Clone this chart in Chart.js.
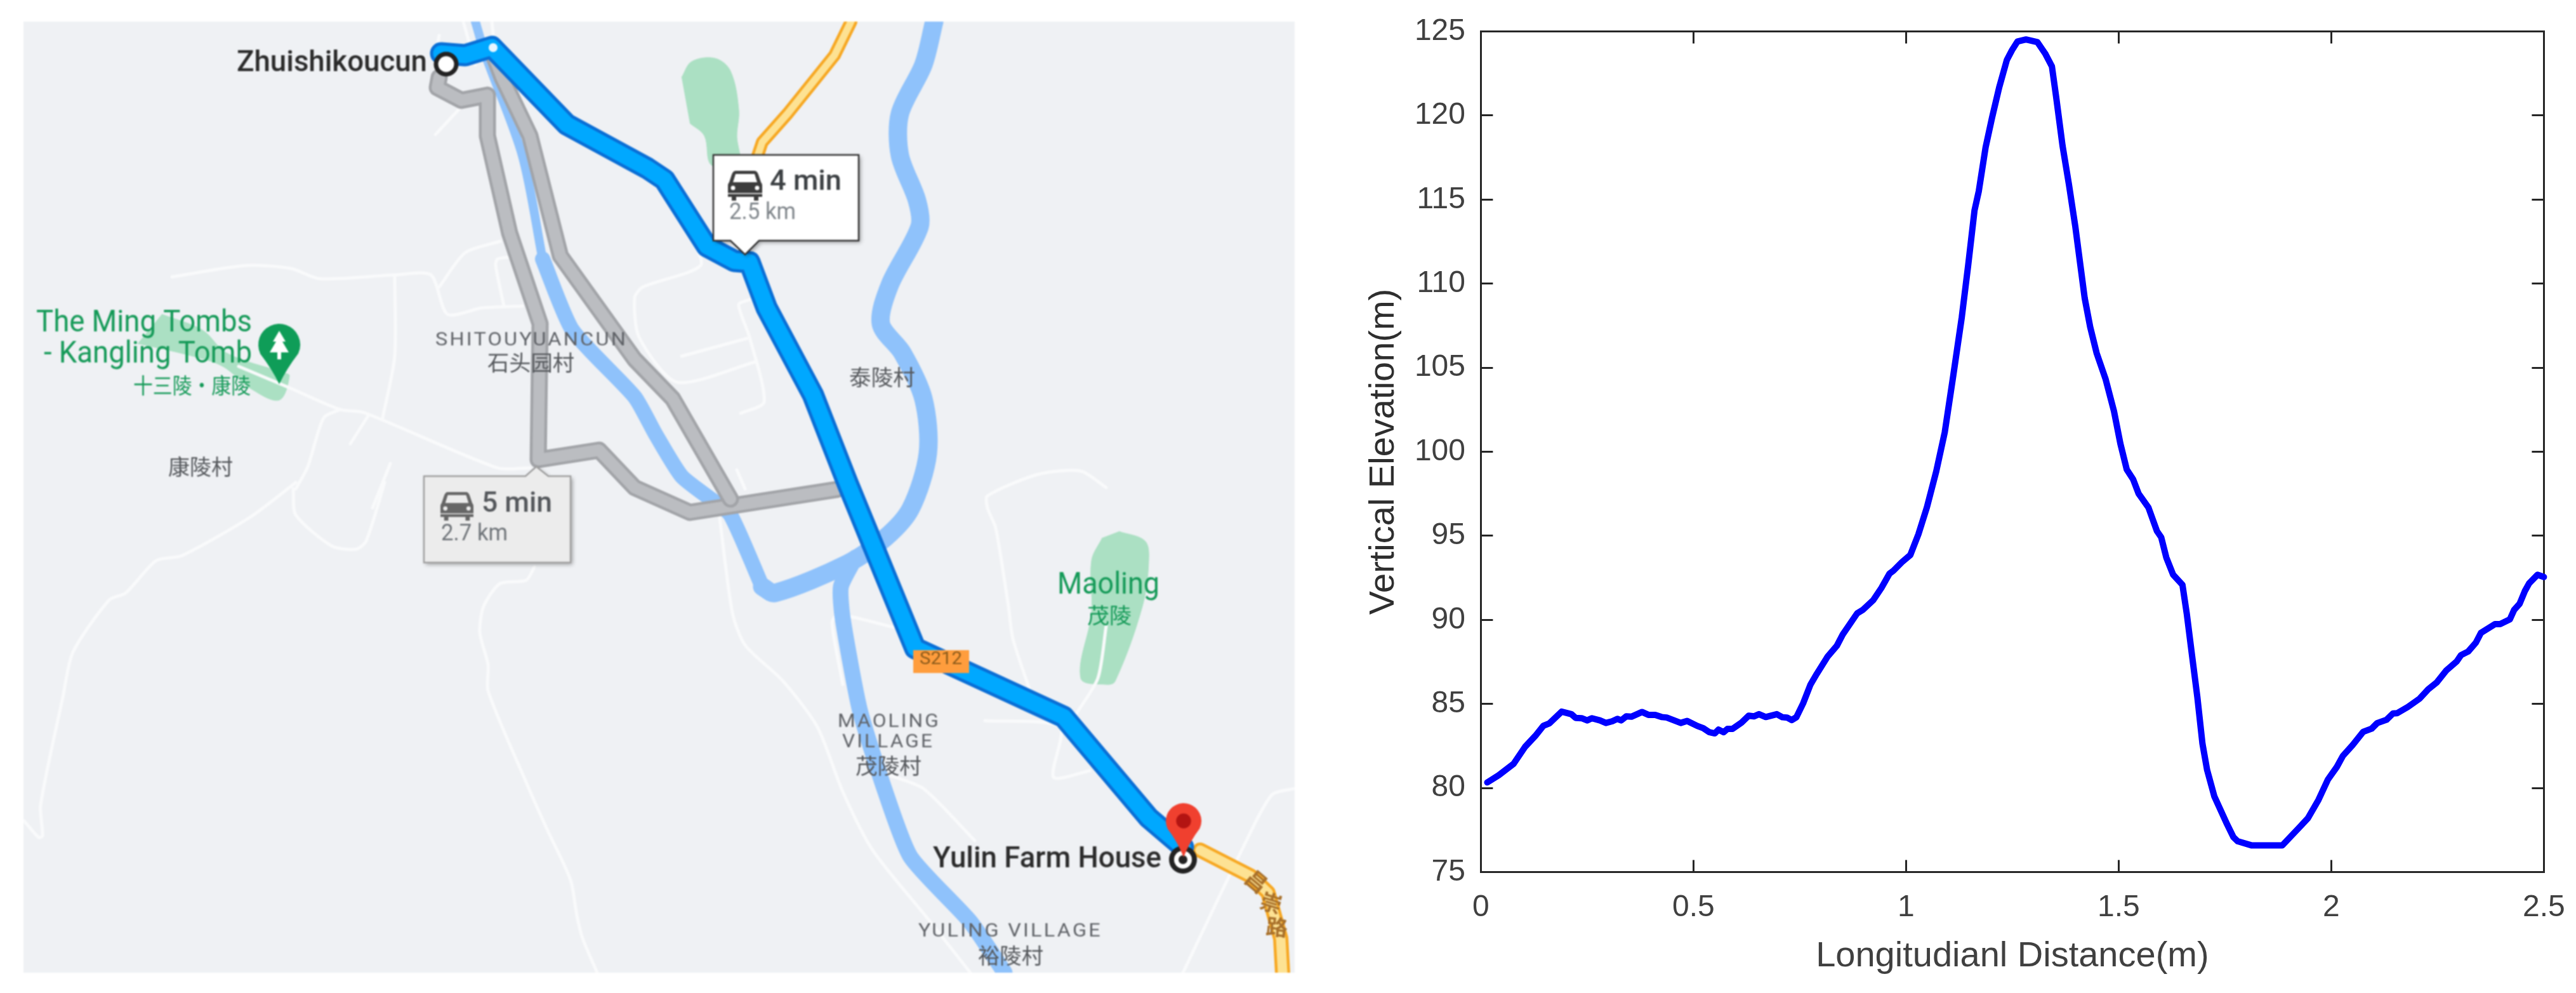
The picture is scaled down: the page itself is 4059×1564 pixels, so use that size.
<!DOCTYPE html>
<html>
<head>
<meta charset="utf-8">
<script src="https://cdn.jsdelivr.net/npm/chart.js@4"></script>
<style>
  html, body { margin: 0; padding: 0; background: #fff; width: 4059px; height: 1564px; overflow: hidden; }
  canvas { position: absolute; }
  #map { left: 37px; top: 34px; filter: blur(1.1px); }
  #profile { left: 2100px; top: 0; }
</style>
</head>
<body>
<canvas id="map" width="2003" height="1498"></canvas>
<canvas id="profile" width="1959" height="1564"></canvas>
<script>
// elevation profile
const profileX = [0.015, 0.042, 0.077, 0.104, 0.128, 0.147, 0.161, 0.19, 0.213, 0.223, 0.237, 0.25, 0.261, 0.28, 0.294, 0.309, 0.321, 0.33, 0.342, 0.354, 0.379, 0.394, 0.41, 0.425, 0.437, 0.47, 0.485, 0.509, 0.523, 0.537, 0.55, 0.559, 0.571, 0.58, 0.592, 0.613, 0.63, 0.642, 0.654, 0.67, 0.696, 0.709, 0.72, 0.731, 0.742, 0.758, 0.775, 0.79, 0.815, 0.837, 0.851, 0.885, 0.899, 0.923, 0.942, 0.961, 0.97, 0.99, 1.01, 1.029, 1.049, 1.071, 1.091, 1.111, 1.131, 1.146, 1.161, 1.171, 1.187, 1.202, 1.219, 1.237, 1.249, 1.262, 1.282, 1.309, 1.327, 1.343, 1.353, 1.368, 1.383, 1.398, 1.41, 1.42, 1.433, 1.448, 1.469, 1.489, 1.504, 1.519, 1.534, 1.547, 1.57, 1.59, 1.6, 1.612, 1.628, 1.65, 1.66, 1.672, 1.685, 1.697, 1.708, 1.725, 1.74, 1.755, 1.77, 1.78, 1.812, 1.885, 1.925, 1.945, 1.97, 1.992, 2.013, 2.027, 2.05, 2.075, 2.095, 2.108, 2.13, 2.145, 2.155, 2.18, 2.208, 2.228, 2.248, 2.27, 2.295, 2.305, 2.322, 2.34, 2.352, 2.385, 2.397, 2.42, 2.43, 2.443, 2.455, 2.465, 2.485, 2.5];
const profileY = [80.33, 80.76, 81.44, 82.45, 83.1, 83.7, 83.84, 84.54, 84.39, 84.17, 84.15, 84.02, 84.15, 84.02, 83.87, 83.97, 84.11, 84.02, 84.26, 84.24, 84.52, 84.35, 84.35, 84.22, 84.19, 83.87, 83.99, 83.69, 83.56, 83.32, 83.25, 83.47, 83.32, 83.52, 83.52, 83.89, 84.3, 84.26, 84.39, 84.22, 84.39, 84.21, 84.19, 84.04, 84.21, 85.04, 86.14, 86.79, 87.8, 88.45, 89.13, 90.39, 90.61, 91.18, 91.9, 92.75, 92.92, 93.43, 93.86, 95.09, 96.7, 98.84, 101.16, 104.53, 108.0, 111.08, 114.36, 115.5, 118.1, 119.85, 121.67, 123.3, 123.88, 124.4, 124.52, 124.36, 123.69, 122.92, 121.09, 118.2, 115.9, 113.4, 111.08, 109.15, 107.42, 105.88, 104.34, 102.41, 100.48, 98.94, 98.36, 97.5, 96.68, 95.28, 94.91, 93.71, 92.69, 92.08, 90.39, 87.99, 85.41, 82.64, 81.07, 79.5, 78.67, 77.84, 77.07, 76.83, 76.59, 76.59, 77.66, 78.2, 79.3, 80.5, 81.25, 81.9, 82.55, 83.34, 83.53, 83.86, 84.06, 84.43, 84.45, 84.82, 85.32, 85.87, 86.28, 86.98, 87.53, 87.9, 88.12, 88.64, 89.23, 89.75, 89.75, 90.03, 90.59, 90.96, 91.7, 92.16, 92.68, 92.55];
const xTitle = 'Longitudianl Distance(m)';
const yTitle = 'Vertical Elevation(m)';

// map geometry, in map units
const mainRoute = [[695,84],[733,87],[775,74],[893,196],[1020,265],[1047,283],[1114,388],[1157,411],[1181,413],[1208,485],[1281,622],[1335,760],[1442,1021],[1676,1129],[1810,1288],[1864,1334]];
const altRouteA = [[692,122],[689,138],[727,158],[768,150],[768,214],[803,367],[851,510],[848,724],[861,722],[944,709],[1000,768],[1087,807],[1318,771]];
const altRouteB = [[775,80],[791,122],[835,214],[883,403],[1000,566],[1060,628],[1151,786]];
const riverThin = [[749,34],[765,87],[823,245],[855,408]];
const riverWide = [[855,408],[902,520],[1000,625],[1033,684],[1074,750],[1120,786],[1151,811],[1201,924]];
const riverBend = [[1201,924],[1221,934],[1335,888],[1395,847],[1435,801],[1462,714],[1455,628],[1422,556],[1388,510],[1402,449],[1449,357],[1445,316],[1418,245],[1418,179],[1455,102],[1472,34]];
const riverSouth = [[1348,878],[1325,924],[1328,975],[1355,1119],[1395,1247],[1435,1350],[1529,1452],[1583,1532]];
const highwayNorth = [[1341,34],[1315,87],[1241,179],[1201,224],[1194,245]];
const highwaySouth = [[1891,1339],[1971,1380],[1998,1406],[2018,1478],[2021,1532]];
const whiteRoads = [
  [[271,436],[389,418],[459,423],[504,439],[622,433],[679,433],[705,495],[759,485],[823,482]],
  [[692,452],[733,398],[788,380]],
  [[804,405],[784,408],[781,418],[794,482]],
  [[622,434],[622,561],[603,658]],
  [[580,655],[552,699]],
  [[376,577],[459,612],[536,645],[574,650],[784,737],[835,737]],
  [[536,645],[510,658],[485,735],[466,770]],
  [[615,730],[587,800]],
  [[686,212],[727,168]],
  [[730,34],[749,102]],
  [[775,34],[781,92]],
  [[692,56],[689,71]],
  [[466,760],[395,814],[287,875],[246,883],[198,934],[172,945],[115,1027],[99,1098],[64,1268],[67,1316],[61,1319],[38,1293]],
  [[462,770],[466,811],[523,860],[561,865],[577,852],[606,760]],
  [[842,893],[829,914],[788,919],[762,955],[756,996],[769,1047],[769,1088],[829,1232],[861,1304],[899,1386],[909,1442],[918,1478],[941,1532]],
  [[1087,367],[1104,418],[1013,452],[1000,469],[1007,531],[1067,602],[1190,570]],
  [[1181,472],[1164,480],[1181,531],[1204,633],[1167,651]],
  [[1074,561],[1177,533]],
  [[1743,768],[1703,742],[1636,747],[1556,781],[1556,800],[1569,832],[1589,955],[1596,1006],[1623,1088]],
  [[1161,740],[1174,770]],
  [[1134,816],[1154,965],[1174,1016],[1234,1073],[1288,1145],[1328,1247],[1375,1339],[1462,1447],[1529,1532]],
  [[1328,1078],[1311,981],[1321,968],[1408,988]],
  [[1402,1221],[1455,1242],[1536,1324]],
  [[1552,1135],[1670,1145],[1660,1224],[1717,1214]],
  [[1743,986],[1730,1068],[1696,1124]],
  [[1864,1532],[1964,1324],[2004,1252],[2040,1242]]
];
const parkNorth = [[1074,122],[1090,97],[1127,92],[1151,112],[1164,173],[1161,214],[1164,260],[1121,260],[1110,214],[1087,194]];
const parkMaoling = [[1763,837],[1804,852],[1810,883],[1800,955],[1757,1073],[1743,1078],[1703,1068],[1720,965],[1720,883],[1737,847]];
const parkKangling = [[255,495],[319,520],[357,556],[446,587],[456,592],[440,630],[395,612],[351,577],[300,560],[217,541]];

// text, left, right, middle, kind
const mapLabels = [
  ['Zhuishikoucun', 373, 673, 100, 'place'],
  ['The Ming Tombs', 57, 397, 510, 'park'],
  ['- Kangling Tomb', 69, 397, 559, 'park'],
  ['十三陵·康陵', 210, 395, 607, 'parkCjk'],
  ['SHITOUYUANCUN', 686, 989, 536, 'village'],
  ['石头园村', 768, 905, 571, 'cjk'],
  ['康陵村', 265, 367, 735, 'cjk'],
  ['泰陵村', 1338, 1442, 594, 'cjk'],
  ['MAOLING', 1320, 1482, 1137, 'village'],
  ['VILLAGE', 1327, 1472, 1169, 'village'],
  ['茂陵村', 1348, 1452, 1206, 'cjk'],
  ['YULING VILLAGE', 1447, 1737, 1467, 'village'],
  ['裕陵村', 1541, 1644, 1505, 'cjk'],
  ['Maoling', 1666, 1827, 923, 'park'],
  ['茂陵', 1713, 1783, 969, 'parkCjk'],
  ['Yulin Farm House', 1470, 1830, 1354, 'place']
];
const labelStyles = {
  place: ['500 46px Roboto', '#2b2b2b'],
  park: ['400 48px Roboto', '#159a58'],
  parkCjk: ['400 34px "Noto Sans CJK SC"', '#159a58'],
  village: ['400 30px Roboto', '#606368', '3px'],
  cjk: ['400 34px "Noto Sans CJK SC"', '#55585c']
};

function toPoints(list) {
  return list.map(p => ({ x: p[0], y: p[1] }));
}
function stroke(list, color, width, curve) {
  return { data: toPoints(list), borderColor: color, borderWidth: width, pointRadius: 0, tension: curve || 0, borderCapStyle: 'round', borderJoinStyle: 'round', fill: false };
}
function park(list) {
  return { data: toPoints(list), borderColor: '#abe0c3', backgroundColor: '#abe0c3', borderWidth: 1, pointRadius: 0, tension: 0.35, fill: 'shape' };
}

// fit text between two x positions, the source map is a stretched screenshot
function span(ctx, text, left, right, mid, font, color, spacing) {
  ctx.save();
  ctx.font = font;
  ctx.letterSpacing = spacing || '0px';
  ctx.fillStyle = color;
  ctx.textBaseline = 'middle';
  ctx.textAlign = 'left';
  const w = ctx.measureText(text).width;
  ctx.translate(left, mid);
  ctx.scale((right - left) / w, 1);
  ctx.fillText(text, 0, 0);
  ctx.restore();
}

function drawCar(ctx, x, y, w, h, color, bg) {
  ctx.save();
  ctx.translate(x, y);
  ctx.scale(w / 54, h / 47);
  ctx.fillStyle = color;
  ctx.beginPath();
  ctx.moveTo(12, 0); ctx.lineTo(42, 0); ctx.quadraticCurveTo(46, 0, 48, 6);
  ctx.lineTo(52, 18); ctx.quadraticCurveTo(54, 20, 54, 24); ctx.lineTo(54, 41);
  ctx.lineTo(48, 41); ctx.lineTo(48, 47); ctx.lineTo(41, 47); ctx.lineTo(41, 41);
  ctx.lineTo(13, 41); ctx.lineTo(13, 47); ctx.lineTo(6, 47); ctx.lineTo(6, 41);
  ctx.lineTo(0, 41); ctx.lineTo(0, 24); ctx.quadraticCurveTo(0, 20, 2, 18);
  ctx.lineTo(6, 6); ctx.quadraticCurveTo(8, 0, 12, 0);
  ctx.fill();
  ctx.fillStyle = bg;
  ctx.beginPath();
  ctx.moveTo(12, 5); ctx.lineTo(42, 5); ctx.lineTo(46, 18); ctx.lineTo(8, 18); ctx.closePath();
  ctx.fill();
  ctx.beginPath(); ctx.arc(8, 27, 3.5, 0, 7); ctx.arc(46, 27, 3.5, 0, 7); ctx.fill();
  ctx.fillRect(0, 35, 54, 1.5);
  ctx.restore();
}

function drawCallout(ctx, box, apex, base, fill, line) {
  ctx.save();
  ctx.shadowColor = 'rgba(0,0,0,0.35)';
  ctx.shadowBlur = 6;
  ctx.shadowOffsetX = 3;
  ctx.shadowOffsetY = 3;
  ctx.fillStyle = fill;
  ctx.strokeStyle = line;
  ctx.lineWidth = 2.5;
  const [l, t, r, b] = box;
  ctx.beginPath();
  ctx.moveTo(l, t);
  if (apex[1] < t) { ctx.lineTo(base[0], t); ctx.lineTo(apex[0], apex[1]); ctx.lineTo(base[1], t); }
  ctx.lineTo(r, t);
  ctx.lineTo(r, b);
  if (apex[1] > b) { ctx.lineTo(base[1], b); ctx.lineTo(apex[0], apex[1]); ctx.lineTo(base[0], b); }
  ctx.lineTo(l, b);
  ctx.closePath();
  ctx.fill();
  ctx.shadowColor = 'transparent';
  ctx.stroke();
  ctx.restore();
}

function drawPin(ctx, cx, cy, r, tipY, fill, dot) {
  ctx.save();
  ctx.fillStyle = fill;
  ctx.beginPath();
  ctx.arc(cx, cy, r, Math.PI * 0.86, Math.PI * 0.14, false);
  ctx.quadraticCurveTo(cx + r * 0.35, cy + r * 1.15, cx, tipY);
  ctx.quadraticCurveTo(cx - r * 0.35, cy + r * 1.15, cx - r * 0.93, cy + r * 0.4);
  ctx.fill();
  if (dot) {
    ctx.fillStyle = dot;
    ctx.beginPath();
    ctx.arc(cx, cy, r * 0.42, 0, 7);
    ctx.fill();
  }
  ctx.restore();
}

// pins, callouts, labels: everything on top of the map lines
const mapOverlay = {
  id: 'mapOverlay',
  beforeDatasetsDraw(chart) {
    const ctx = chart.ctx;
    ctx.save();
    ctx.fillStyle = '#eff1f4';
    ctx.fillRect(0, 0, chart.width, chart.height);
    ctx.restore();
  },
  afterDatasetsDraw(chart) {
    const ctx = chart.ctx;
    const sx = chart.scales.x, sy = chart.scales.y;
    ctx.save();
    ctx.translate(sx.getPixelForValue(0), sy.getPixelForValue(0));

    mapLabels.forEach(l => {
      const st = labelStyles[l[4]];
      span(ctx, l[0], l[1], l[2], l[3], st[0], st[1], st[2]);
    });

    // start marker and waypoint
    ctx.beginPath(); ctx.arc(703, 101, 16, 0, 7);
    ctx.fillStyle = '#fff'; ctx.fill();
    ctx.lineWidth = 7; ctx.strokeStyle = '#222'; ctx.stroke();
    ctx.beginPath(); ctx.arc(777, 75, 7, 0, 7); ctx.fillStyle = '#e8f6ff'; ctx.fill();

    // green tree pin
    drawPin(ctx, 440, 543, 33, 605, '#0f9d58');
    ctx.fillStyle = '#fff';
    ctx.beginPath();
    ctx.moveTo(440, 521); ctx.lineTo(450, 538); ctx.lineTo(445, 538); ctx.lineTo(455, 555); ctx.lineTo(443, 555);
    ctx.lineTo(443, 566); ctx.lineTo(437, 566); ctx.lineTo(437, 555); ctx.lineTo(425, 555); ctx.lineTo(435, 538); ctx.lineTo(430, 538);
    ctx.closePath();
    ctx.fill();

    // road shield
    ctx.fillStyle = '#ff9d3d';
    ctx.fillRect(1439, 1024, 88, 36);
    span(ctx, 'S212', 1449, 1516, 1039, '400 28px Roboto', '#8a5a1a');

    // road name along the highway
    ctx.save();
    ctx.fillStyle = '#a8702a';
    ctx.font = '700 34px "Noto Sans CJK SC"';
    ctx.textAlign = 'center';
    ctx.textBaseline = 'middle';
    [['昌', 1980, 1388, 0.7], ['崇', 2003, 1422, 0.3], ['路', 2012, 1460, 0.1]].forEach(g => {
      ctx.save(); ctx.translate(g[1], g[2]); ctx.rotate(g[3]); ctx.fillText(g[0], 0, 0); ctx.restore();
    });
    ctx.restore();

    // end marker and red pin
    ctx.beginPath(); ctx.arc(1864, 1354, 22, 0, 7); ctx.fillStyle = '#222'; ctx.fill();
    ctx.beginPath(); ctx.arc(1864, 1354, 14, 0, 7); ctx.fillStyle = '#fff'; ctx.fill();
    ctx.beginPath(); ctx.arc(1864, 1354, 7, 0, 7); ctx.fillStyle = '#222'; ctx.fill();
    drawPin(ctx, 1865, 1293, 28, 1350, '#f0402f', '#b31412');

    // route callouts
    drawCallout(ctx, [1124, 244, 1353, 379], [1174, 401], [1151, 1196], '#fff', '#333');
    drawCar(ctx, 1147, 269, 54, 47, '#3c3c3c', '#fff');
    span(ctx, '4 min', 1213, 1326, 288, '500 44px Roboto', '#3c4043');
    span(ctx, '2.5 km', 1149, 1254, 336, '400 36px Roboto', '#80868b');

    drawCallout(ctx, [668, 750, 899, 886], [845, 735], [828, 864], '#ececec', '#a0a0a0');
    drawCar(ctx, 694, 775, 52, 45, '#666', '#ececec');
    span(ctx, '5 min', 759, 870, 795, '500 44px Roboto', '#55585c');
    span(ctx, '2.7 km', 695, 800, 842, '400 36px Roboto', '#70757a');

    ctx.restore();
  }
};

// listed bottom layer first; Chart.js paints the first dataset last, so reversed at the end
const mapDatasets = [
  park(parkNorth), park(parkMaoling), park(parkKangling),
  ...whiteRoads.map(r => stroke(r, '#f9fafb', 5, 0.25)),
  stroke(riverThin, '#8fc2fb', 14, 0.3),
  stroke(riverWide, '#8fc2fb', 24, 0.2),
  stroke(riverBend, '#8fc2fb', 29, 0.3),
  stroke(riverSouth, '#8fc2fb', 25, 0.2),
  stroke(highwayNorth, '#f7a823', 20),
  stroke(highwayNorth, '#fde293', 11),
  stroke(highwaySouth, '#f7a823', 24),
  stroke(highwaySouth, '#fde293', 15),
  stroke(altRouteA, '#a2a4a8', 27),
  stroke(altRouteA, '#bbbdc1', 18),
  stroke(altRouteB, '#a2a4a8', 27),
  stroke(altRouteB, '#bbbdc1', 18),
  stroke(mainRoute, '#0a6fd6', 35),
  stroke(mainRoute, '#00a8ff', 25)
].reverse();

new Chart(document.querySelector('#map'), {
  type: 'line',
  data: { datasets: mapDatasets },
  options: {
    responsive: false,
    animation: false,
    layout: { padding: 0 },
    plugins: { legend: { display: false }, tooltip: { enabled: false } },
    scales: {
      x: { type: 'linear', min: 37, max: 2040, display: false },
      y: { type: 'linear', min: 34, max: 1532, reverse: true, display: false }
    }
  },
  plugins: [mapOverlay]
});

const inkAxis = '#262626';
const inkText = '#404040';
const axisFont = { family: '"Liberation Sans", Arial, sans-serif', size: 48 };
const titleFont = { family: '"Liberation Sans", Arial, sans-serif', size: 56 };
function tickGrid() {
  return { drawOnChartArea: false, drawTicks: true, tickLength: -19, color: inkAxis, lineWidth: 3 };
}
const axisBorder = { display: true, color: inkAxis, width: 3 };
function noOverhang(s) {
  s.paddingTop = s.paddingBottom = s.paddingLeft = s.paddingRight = 0;
}

new Chart(document.querySelector('#profile'), {
  type: 'line',
  data: {
    datasets: [{
      data: profileX.map((x, i) => ({ x: x, y: profileY[i] })),
      borderColor: '#0000ff',
      borderWidth: 10,
      pointRadius: 0,
      tension: 0,
      clip: false,
      borderCapStyle: 'round',
      borderJoinStyle: 'round'
    }]
  },
  options: {
    responsive: false,
    animation: false,
    layout: { padding: { top: 49.5, right: 50.6, left: 0, bottom: 0 } },
    plugins: { legend: { display: false }, tooltip: { enabled: false } },
    scales: {
      x: {
        type: 'linear', position: 'bottom', min: 0, max: 2.5,
        grid: tickGrid(), border: axisBorder,
        afterFit: s => { s.height = 190.5; noOverhang(s); },
        ticks: { stepSize: 0.5, padding: 46, maxRotation: 0, color: inkText, font: axisFont, callback: v => String(v) },
        title: { display: true, text: xTitle, color: inkText, font: titleFont, padding: { top: 0, bottom: 24 } }
      },
      y: {
        type: 'linear', position: 'left', min: 75, max: 125,
        grid: tickGrid(), border: axisBorder,
        afterFit: s => { s.width = 233.4; noOverhang(s); },
        ticks: { stepSize: 5, padding: 43.4, color: inkText, font: axisFont, callback: v => String(v) },
        title: { display: true, text: yTitle, color: '#2e2e2e', font: titleFont, padding: { top: 47, bottom: 0 } }
      },
      x2: {
        type: 'linear', axis: 'x', position: 'top', min: 0, max: 2.5,
        grid: tickGrid(), border: axisBorder,
        afterFit: s => { s.height = 0; noOverhang(s); },
        ticks: { display: false, stepSize: 0.5 }
      },
      y2: {
        type: 'linear', axis: 'y', position: 'right', min: 75, max: 125,
        grid: tickGrid(), border: axisBorder,
        afterFit: s => { s.width = 0; noOverhang(s); },
        ticks: { display: false, stepSize: 5 }
      }
    }
  }
});
</script>
</body>
</html>
